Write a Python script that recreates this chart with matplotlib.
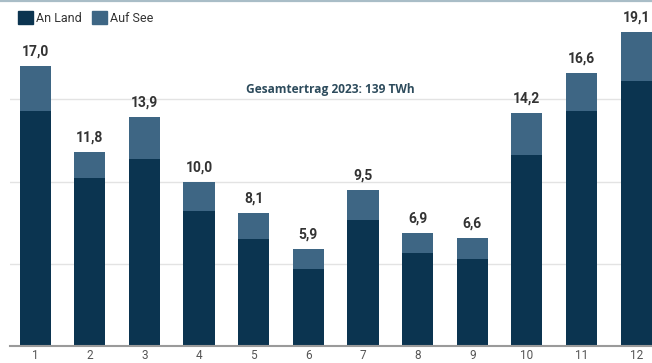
import matplotlib
matplotlib.use('Agg')
import matplotlib.pyplot as plt
from matplotlib.patches import Patch
from matplotlib.lines import Line2D
import numpy as np

# Monthly wind energy yield 2023 (TWh)
months = [str(m) for m in range(1, 13)]
an_land = [14.3, 10.2, 11.4, 8.2, 6.5, 4.7, 7.7, 5.7, 5.3, 11.6, 14.3, 16.1]
total = [17.0, 11.8, 13.9, 10.0, 8.1, 5.9, 9.5, 6.9, 6.6, 14.2, 16.6, 19.1]
auf_see = [round(t - l, 1) for t, l in zip(total, an_land)]
total_label = "Gesamtertrag 2023: 139 TWh"

c_land = "#0b3450"
c_see = "#3e6684"

plt.rcParams['font.family'] = ['Roboto', 'DejaVu Sans']

fig = plt.figure(figsize=(6.52, 3.63), dpi=100)
ax = fig.add_axes([0.0153, 0.0455, 0.9847, 0.9545])

x = np.arange(1, 13)
ax.bar(x, an_land, width=0.57, color=c_land, zorder=2)
ax.bar(x, auf_see, bottom=an_land, width=0.57, color=c_see, zorder=2)

for xi, t in zip(x, total):
    ax.text(xi, t + 0.45, f"{t:.1f}".replace(".", ","), ha="center", va="bottom",
            fontsize=10, fontweight="bold", color="#333333")

ax.text(6.4, 15.6, total_label, ha="center", va="center", fontsize=8.6,
        fontweight="bold", color="#2d4b5c", family=["Open Sans", "DejaVu Sans"])

ax.set_xlim(0.54, 12.29)
ax.set_ylim(0, 21.03)
ax.set_yticks([5, 10, 15])
ax.yaxis.grid(True, color="#e3e3e3", linewidth=1)
ax.set_axisbelow(True)
ax.tick_params(axis="y", left=False, labelleft=False)
ax.set_xticks(x)
ax.set_xticklabels(months)
ax.tick_params(axis="x", length=0, pad=2, labelsize=8.5, labelcolor="#555555")
for s in ["top", "right", "left"]:
    ax.spines[s].set_visible(False)
ax.spines["bottom"].set_color("#9a9a9a")
ax.spines["bottom"].set_linewidth(1.5)
ax.spines["bottom"].set_zorder(3)

handles = [Patch(color=c_land, label="An Land"), Patch(color=c_see, label="Auf See")]
fig.legend(handles=handles, loc="upper left", bbox_to_anchor=(0.01, 1.0), ncol=2,
           frameon=False, fontsize=9, handlelength=1.2, handleheight=1.2,
           handletextpad=0.25, columnspacing=0.8, labelcolor="#333333")

fig.add_artist(Line2D([0, 1], [0.997, 0.997], color="#a9bdc7", linewidth=1.6,
                      transform=fig.transFigure))

fig.savefig("out.png", dpi=100)
